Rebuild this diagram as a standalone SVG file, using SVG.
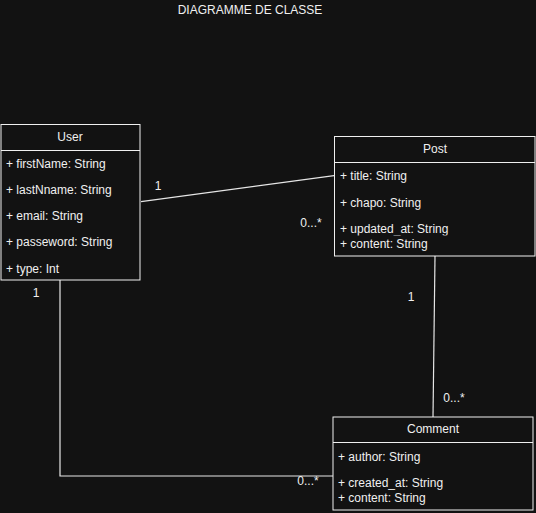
<svg xmlns="http://www.w3.org/2000/svg" width="536" height="513" viewBox="0 0 536 513">
<style>
text{font-family:"Liberation Sans",Arial,sans-serif;font-size:12px;fill:#f0f0f0}
.c{text-anchor:middle}
.box{fill:#121212;stroke:#f0f0f0;stroke-width:1}
.ln{fill:none;stroke:#e6e6e6;stroke-width:1.2}
</style>
<defs>
<clipPath id="cp1"><rect x="334" y="215" width="201" height="20.5"/></clipPath>
<clipPath id="cp2"><rect x="333" y="470" width="200" height="20.5"/></clipPath>
</defs>
<rect x="0" y="0" width="536" height="513" fill="#121212"/>
<text class="c" x="250" y="14">DIAGRAMME DE CLASSE</text>
<g id="connectors">
<path class="ln" d="M141,201.7 L334,175.7"/>
<path class="ln" d="M435,256 L433,417"/>
<path class="ln" d="M60,280 L60,476 L333,476"/>
<text class="c" x="158" y="190">1</text>
<text class="c" x="311" y="227">0...*</text>
<text class="c" x="36" y="297">1</text>
<text class="c" x="411" y="301">1</text>
<text class="c" x="454" y="402">0...*</text>
<text class="c" x="308" y="485">0...*</text>
</g>
<g id="user">
<rect class="box" x="1" y="124.5" width="139" height="155.5"/>
<line x1="1" y1="150.5" x2="140" y2="150.5" stroke="#f0f0f0"/>
<text class="c" x="70" y="141">User</text>
<text x="6" y="168">+ firstName: String</text>
<text x="6" y="194">+ lastNname: String</text>
<text x="6" y="220">+ email: String</text>
<text x="6" y="246">+ passeword: String</text>
<text x="6" y="273">+ type: Int</text>
</g>
<g id="post">
<rect class="box" x="334.5" y="136.5" width="200.5" height="119.5"/>
<line x1="334.5" y1="162.5" x2="535" y2="162.5" stroke="#f0f0f0"/>
<text class="c" x="435" y="153">Post</text>
<text x="340" y="180">+ title: String</text>
<text x="340" y="207">+ chapo: String</text>
<text x="340" y="232.5" clip-path="url(#cp1)">+ updated_at: String</text>
<text x="340" y="248">+ content: String</text>
</g>
<g id="comment">
<rect class="box" x="333" y="417" width="200" height="93"/>
<line x1="333" y1="442.5" x2="533" y2="442.5" stroke="#f0f0f0"/>
<text class="c" x="433" y="433">Comment</text>
<text x="338" y="461">+ author: String</text>
<text x="338" y="486.5" clip-path="url(#cp2)">+ created_at: String</text>
<text x="338" y="502">+ content: String</text>
</g>
</svg>
